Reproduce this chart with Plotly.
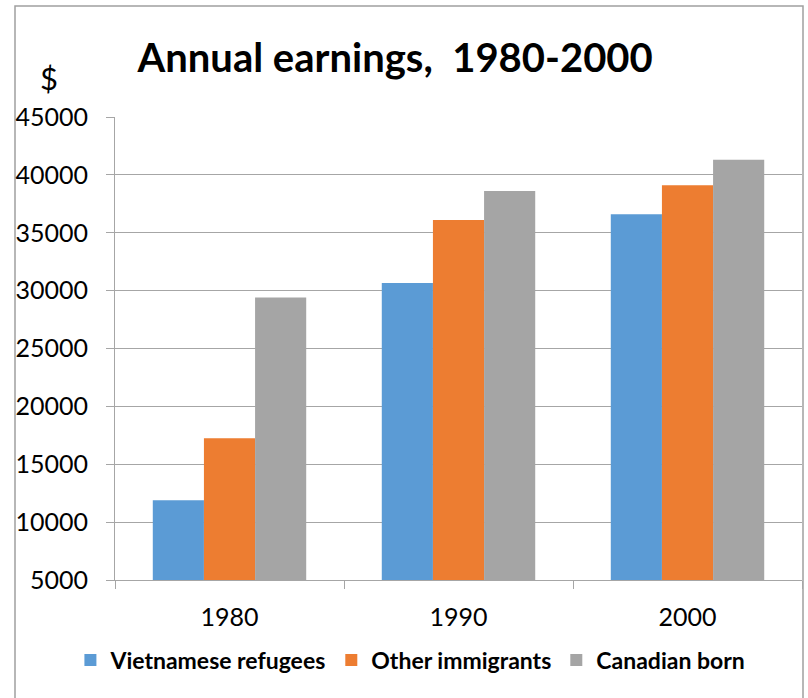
import plotly.graph_objects as go

years = ["1980", "1990", "2000"]
series_names = ["Vietnamese refugees", "Other immigrants", "Canadian born"]
vietnamese = [11900, 30650, 36600]
other_imm = [17250, 36100, 39100]
canadian = [29400, 38600, 41300]
colors = ["#5B9BD5", "#ED7D31", "#A5A5A5"]
y_ticks = [5000, 10000, 15000, 20000, 25000, 30000, 35000, 40000, 45000]
y_ticktext = [str(v) for v in y_ticks]

FONT = "Lato"
fig = go.Figure()
for name, vals, col in zip(series_names, [vietnamese, other_imm, canadian], colors):
    fig.add_trace(go.Bar(x=years, y=vals, name=name, marker=dict(color=col, line=dict(width=0))))

fig.update_layout(
    width=808, height=698,
    margin=dict(l=115, r=6, t=117, b=118, autoexpand=False),
    paper_bgcolor="white", plot_bgcolor="white",
    barmode="group", bargap=0.33, bargroupgap=0,
    font=dict(family=FONT, color="black", size=25),
    title=dict(text="<b>Annual earnings,  1980-2000</b>", x=0.489, xanchor="center",
               y=1 - 58 / 698, yanchor="middle", font=dict(family=FONT, size=40, color="black")),
    showlegend=True,
    legend=dict(orientation="h", x=0.43, xanchor="center", y=-0.173, yanchor="middle",
                font=dict(family=FONT, size=23, color="black", weight="bold"), itemwidth=30,
                traceorder="normal", bgcolor="rgba(0,0,0,0)"),
    xaxis=dict(type="category", showline=True, linecolor="#A6A6A6", linewidth=1,
               ticks="outside", tickson="boundaries", ticklen=8, tickcolor="#A6A6A6",
               tickfont=dict(family=FONT, size=25), showgrid=False, ticklabelstandoff=15),
    yaxis=dict(range=[5000, 45000], tickvals=y_ticks, ticktext=y_ticktext, showline=True,
               linecolor="#A6A6A6", linewidth=1, ticks="outside", ticklen=8, tickcolor="#A6A6A6",
               showgrid=True, gridcolor="#A6A6A6", gridwidth=1, zeroline=False,
               tickfont=dict(family=FONT, size=25), ticklabelstandoff=13),
)

fig.add_annotation(text="$", xref="paper", yref="paper", x=(49 - 115) / 687, y=(580 - 78) / 463,
                   showarrow=False, font=dict(family=FONT, size=31, color="black"),
                   xanchor="center", yanchor="middle")

fig.add_shape(type="rect", xref="paper", yref="paper",
              x0=(15 - 115) / 687, x1=(803 - 115) / 687, y0=-0.4, y1=(580 - 6) / 463,
              line=dict(color="#A0A0A0", width=1.5), fillcolor="rgba(0,0,0,0)", layer="below")

fig.write_html("out.html", config={"displayModeBar": False},
               post_script="document.body.style.margin='0px';")
